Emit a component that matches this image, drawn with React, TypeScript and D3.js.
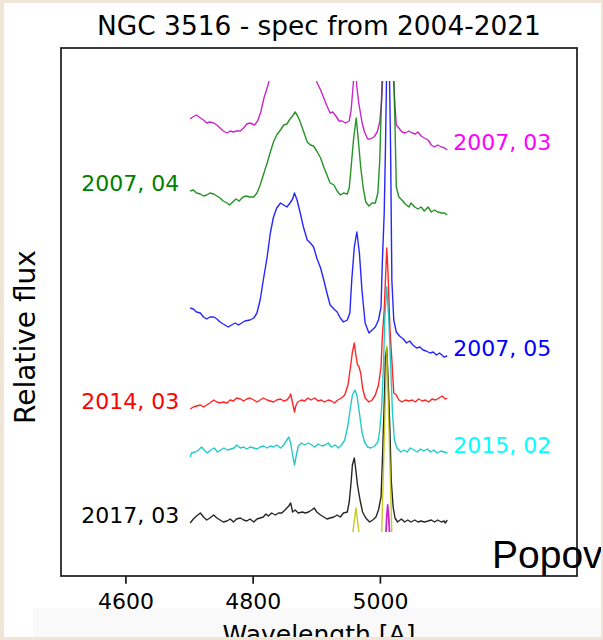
import React from "react";
import * as d3 from "d3";

// Optical spectra of NGC 3516 around H-beta and [O III], offset vertically per epoch.
type Pt = [number, number]; // [wavelength (A), relative flux + offset]

const W = 603;
const H = 640;

const xTicks = [4600, 4800, 5000];
const titleText = "NGC 3516 - spec from 2004-2021";
const xLabelText = "Wavelength [A]";
const yLabelText = "Relative flux";
const footText = "Popov";

const spec2007_03: Pt[] = [
  [4701, 4.57], [4705, 4.59], [4711, 4.61], [4717, 4.58], [4722, 4.56], [4727, 4.53], [4732, 4.54],
  [4738, 4.53], [4743, 4.51], [4748, 4.48], [4753, 4.45], [4759, 4.43], [4764, 4.45], [4769, 4.44],
  [4774, 4.45], [4780, 4.45], [4785, 4.48], [4790, 4.52], [4795, 4.53], [4802, 4.51], [4807, 4.55],
  [4812, 4.64], [4817, 4.78], [4823, 4.9], [4828, 5.03], [4843, 5.36], [4864, 5.49], [4890, 5.23],
  [4900, 4.94], [4906, 4.86], [4911, 4.78], [4916, 4.7], [4921, 4.63], [4925, 4.64], [4930, 4.6],
  [4935, 4.55], [4940, 4.55], [4945, 4.53], [4951, 4.55], [4954, 4.66], [4957, 4.89], [4960, 5.16],
  [4963, 4.89], [4966, 4.73], [4971, 4.54], [4975, 4.44], [4980, 4.37], [4984, 4.37], [4990, 4.39],
  [4995, 4.44], [4999, 4.54], [5002, 4.76], [5004, 5.03], [5011, 5.83], [5020, 5.03], [5023, 4.69],
  [5025, 4.51], [5029, 4.48], [5034, 4.44], [5039, 4.43], [5045, 4.45], [5050, 4.43], [5055, 4.42],
  [5059, 4.44], [5064, 4.4], [5069, 4.38], [5075, 4.36], [5080, 4.31], [5085, 4.29], [5090, 4.31],
  [5096, 4.29], [5101, 4.28], [5105, 4.26],
];

const spec2007_04: Pt[] = [
  [4701, 3.85], [4706, 3.86], [4711, 3.83], [4717, 3.82], [4722, 3.8], [4727, 3.81], [4732, 3.83],
  [4738, 3.82], [4743, 3.8], [4748, 3.78], [4753, 3.75], [4759, 3.73], [4763, 3.71], [4768, 3.74],
  [4773, 3.77], [4778, 3.75], [4784, 3.79], [4789, 3.8], [4795, 3.79], [4801, 3.79], [4806, 3.83],
  [4811, 3.91], [4816, 4.01], [4822, 4.13], [4827, 4.24], [4832, 4.34], [4837, 4.41], [4843, 4.46],
  [4848, 4.51], [4853, 4.52], [4858, 4.57], [4862, 4.6], [4866, 4.64], [4870, 4.6], [4874, 4.54],
  [4879, 4.45], [4885, 4.34], [4890, 4.31], [4895, 4.3], [4900, 4.25], [4906, 4.18], [4911, 4.09],
  [4916, 4.01], [4921, 3.93], [4927, 3.91], [4932, 3.85], [4937, 3.81], [4942, 3.83], [4948, 3.82],
  [4951, 3.88], [4954, 4.09], [4958, 4.38], [4962, 4.58], [4965, 4.38], [4969, 4.09], [4973, 3.88],
  [4977, 3.74], [4982, 3.7], [4987, 3.73], [4992, 3.73], [4996, 3.83], [4999, 4.16], [5002, 4.83],
  [5005, 5.49], [5013, 6.16], [5020, 5.33], [5023, 4.49], [5025, 3.89], [5029, 3.79], [5034, 3.76],
  [5039, 3.72], [5045, 3.69], [5048, 3.73], [5054, 3.69], [5059, 3.67], [5064, 3.69], [5069, 3.65],
  [5075, 3.69], [5080, 3.64], [5085, 3.66], [5090, 3.64], [5096, 3.63], [5101, 3.63], [5105, 3.61],
];

const spec2007_05: Pt[] = [
  [4701, 2.68], [4706, 2.67], [4711, 2.64], [4717, 2.63], [4722, 2.59], [4727, 2.57], [4732, 2.59],
  [4738, 2.59], [4743, 2.57], [4748, 2.54], [4753, 2.52], [4761, 2.49], [4766, 2.51], [4772, 2.53],
  [4777, 2.51], [4782, 2.53], [4787, 2.55], [4795, 2.56], [4801, 2.58], [4806, 2.63], [4811, 2.76],
  [4816, 2.96], [4822, 3.19], [4827, 3.43], [4832, 3.59], [4837, 3.68], [4843, 3.73], [4848, 3.71],
  [4853, 3.69], [4858, 3.73], [4862, 3.77], [4865, 3.83], [4869, 3.76], [4874, 3.63], [4879, 3.49],
  [4885, 3.36], [4890, 3.33], [4895, 3.29], [4900, 3.18], [4906, 3.08], [4911, 2.96], [4916, 2.83],
  [4921, 2.71], [4927, 2.67], [4932, 2.64], [4937, 2.58], [4942, 2.54], [4948, 2.56], [4952, 2.63],
  [4955, 2.96], [4959, 3.29], [4963, 3.44], [4967, 3.23], [4971, 2.86], [4976, 2.53], [4982, 2.43],
  [4987, 2.46], [4992, 2.49], [4997, 2.56], [5001, 2.69], [5003, 3.13], [5006, 3.63], [5008, 4.29],
  [5012, 5.96], [5016, 4.29], [5018, 2.96], [5021, 2.56], [5025, 2.44], [5030, 2.4], [5036, 2.37],
  [5041, 2.33], [5046, 2.35], [5051, 2.31], [5057, 2.28], [5062, 2.29], [5067, 2.26], [5072, 2.25],
  [5078, 2.23], [5083, 2.24], [5088, 2.21], [5093, 2.23], [5100, 2.19], [5105, 2.2],
];

const spec2014_03: Pt[] = [
  [4701, 1.67], [4706, 1.69], [4711, 1.7], [4717, 1.71], [4722, 1.69], [4727, 1.71], [4732, 1.73],
  [4738, 1.76], [4743, 1.74], [4748, 1.73], [4753, 1.74], [4759, 1.73], [4764, 1.76], [4769, 1.75],
  [4774, 1.78], [4780, 1.77], [4785, 1.75], [4790, 1.77], [4795, 1.78], [4801, 1.76], [4806, 1.74],
  [4811, 1.76], [4816, 1.78], [4822, 1.76], [4827, 1.75], [4832, 1.74], [4837, 1.76], [4843, 1.77],
  [4848, 1.75], [4853, 1.76], [4857, 1.79], [4859, 1.82], [4861, 1.76], [4863, 1.7], [4865, 1.64],
  [4867, 1.7], [4870, 1.74], [4876, 1.76], [4881, 1.75], [4886, 1.78], [4891, 1.76], [4897, 1.78],
  [4902, 1.75], [4907, 1.76], [4912, 1.74], [4918, 1.76], [4923, 1.75], [4928, 1.73], [4933, 1.76],
  [4939, 1.78], [4944, 1.81], [4949, 1.91], [4953, 2.09], [4956, 2.24], [4959, 2.33], [4961, 2.23],
  [4964, 2.11], [4966, 2.1], [4969, 2.03], [4972, 1.88], [4976, 1.78], [4982, 1.74], [4987, 1.76],
  [4992, 1.81], [4997, 1.91], [5001, 2.09], [5003, 2.39], [5006, 2.66], [5010, 3.28], [5012, 3.03],
  [5015, 2.47], [5018, 2.16], [5021, 1.83], [5025, 1.81], [5029, 1.76], [5034, 1.74], [5039, 1.76],
  [5045, 1.75], [5050, 1.76], [5055, 1.74], [5060, 1.77], [5066, 1.75], [5071, 1.76], [5076, 1.74],
  [5081, 1.77], [5087, 1.76], [5092, 1.78], [5097, 1.8], [5102, 1.77], [5105, 1.78],
];

const spec2015_02: Pt[] = [
  [4701, 1.19], [4703, 1.23], [4709, 1.24], [4714, 1.26], [4719, 1.29], [4723, 1.26], [4728, 1.23],
  [4733, 1.26], [4739, 1.28], [4744, 1.24], [4749, 1.26], [4754, 1.28], [4760, 1.26], [4765, 1.27],
  [4770, 1.28], [4774, 1.31], [4780, 1.28], [4785, 1.29], [4790, 1.27], [4795, 1.29], [4801, 1.28],
  [4806, 1.27], [4811, 1.29], [4816, 1.3], [4822, 1.28], [4827, 1.3], [4832, 1.29], [4837, 1.31],
  [4843, 1.28], [4848, 1.31], [4852, 1.35], [4856, 1.39], [4859, 1.33], [4862, 1.21], [4865, 1.11],
  [4867, 1.18], [4871, 1.3], [4876, 1.33], [4881, 1.31], [4887, 1.33], [4892, 1.31], [4897, 1.29],
  [4902, 1.32], [4908, 1.3], [4913, 1.31], [4918, 1.33], [4923, 1.29], [4929, 1.31], [4934, 1.28],
  [4939, 1.31], [4944, 1.36], [4949, 1.51], [4953, 1.69], [4956, 1.81], [4960, 1.86], [4963, 1.81],
  [4967, 1.63], [4971, 1.44], [4975, 1.34], [4980, 1.29], [4985, 1.28], [4991, 1.3], [4996, 1.34],
  [4999, 1.46], [5002, 1.69], [5005, 2.13], [5007, 2.59], [5010, 2.89], [5013, 2.59], [5016, 2.13],
  [5019, 1.63], [5022, 1.36], [5026, 1.28], [5032, 1.24], [5037, 1.26], [5042, 1.24], [5047, 1.28],
  [5053, 1.26], [5058, 1.24], [5063, 1.27], [5068, 1.25], [5074, 1.27], [5079, 1.24], [5084, 1.26],
  [5089, 1.23], [5095, 1.25], [5100, 1.24], [5105, 1.23],
];

const spec2017_03: Pt[] = [
  [4701, 0.53], [4706, 0.57], [4711, 0.6], [4717, 0.63], [4722, 0.59], [4727, 0.56], [4732, 0.58],
  [4738, 0.61], [4743, 0.58], [4748, 0.56], [4753, 0.54], [4759, 0.55], [4764, 0.57], [4769, 0.54],
  [4774, 0.57], [4780, 0.58], [4785, 0.56], [4790, 0.55], [4795, 0.57], [4801, 0.54], [4806, 0.57],
  [4811, 0.58], [4816, 0.59], [4820, 0.62], [4824, 0.6], [4829, 0.63], [4835, 0.61], [4840, 0.63],
  [4845, 0.63], [4850, 0.66], [4856, 0.7], [4859, 0.73], [4862, 0.64], [4866, 0.66], [4871, 0.63],
  [4877, 0.64], [4882, 0.63], [4887, 0.64], [4892, 0.66], [4896, 0.68], [4900, 0.64], [4906, 0.61],
  [4911, 0.59], [4916, 0.57], [4921, 0.58], [4927, 0.59], [4932, 0.61], [4937, 0.59], [4942, 0.63],
  [4948, 0.64], [4951, 0.74], [4954, 0.94], [4956, 1.11], [4959, 1.18], [4961, 1.08], [4964, 0.91],
  [4968, 0.76], [4972, 0.64], [4977, 0.58], [4983, 0.54], [4988, 0.56], [4993, 0.59], [4997, 0.66],
  [5001, 0.79], [5003, 1.13], [5006, 1.73], [5008, 2.19], [5010, 2.28], [5012, 1.99], [5015, 1.46],
  [5017, 0.96], [5020, 0.69], [5023, 0.58], [5027, 0.54], [5033, 0.57], [5038, 0.54], [5043, 0.56],
  [5048, 0.54], [5054, 0.56], [5059, 0.54], [5064, 0.55], [5069, 0.54], [5075, 0.55], [5080, 0.56],
  [5085, 0.54], [5090, 0.56], [5096, 0.54], [5100, 0.55], [5102, 0.53], [5105, 0.56],
];

// [O III] 4959/5007 model profiles drawn under the latest epoch
const oiiiModel: Pt[] = [
  [4940, 0.05], [4954, 0.3], [4961.5, 0.68], [4969, 0.3], [4980, 0.05], [4995, 0.08], [5002, 0.42],
  [5006, 1.35], [5010, 2.3], [5014, 1.35], [5018, 0.42], [5025, 0.08],
];
const narrowModel: Pt[] = [[5006, 0.1], [5010, 0.6], [5011.5, 0.71], [5013, 0.6], [5017, 0.1]];

interface Series {
  label: string | null;
  side: "left" | "right";
  data: Pt[];
  stroke: string;
  text: string;
  width: number;
}

const series: Series[] = [
  { label: "2007, 03", side: "right", data: spec2007_03, stroke: "#bf00bf", text: "#ff00ff", width: 1.4 },
  { label: "2007, 04", side: "left", data: spec2007_04, stroke: "#008000", text: "#008000", width: 1.4 },
  { label: "2007, 05", side: "right", data: spec2007_05, stroke: "#0000ff", text: "#0000ff", width: 1.4 },
  { label: "2014, 03", side: "left", data: spec2014_03, stroke: "#ff0000", text: "#ff0000", width: 1.4 },
  { label: "2015, 02", side: "right", data: spec2015_02, stroke: "#00bfbf", text: "#00ffff", width: 1.4 },
  { label: "2017, 03", side: "left", data: spec2017_03, stroke: "#000000", text: "#000000", width: 1.4 },
  { label: null, side: "left", data: oiiiModel, stroke: "#bfbf00", text: "#bfbf00", width: 1.4 },
  { label: null, side: "left", data: narrowModel, stroke: "#bf00bf", text: "#bf00bf", width: 1.8 },
];

// plot frame
const frame = { left: 61, top: 48, right: 577, bottom: 576 };
// visible flux window of the spectra
const fluxTop = 4.95;
const fluxBottom = 0.44;

const x = d3.scaleLinear().domain([4498, 5309]).range([frame.left, frame.right]);
const y = d3.scaleLinear().domain([0, 5.28]).range([frame.bottom, frame.top]);

const line = d3
  .line<Pt>()
  .x((d) => x(d[0]))
  .y((d) => y(d[1]));

const FONT = "'DejaVu Sans', sans-serif";

export default function App() {
  const clipTop = y(fluxTop);
  const clipBottom = y(fluxBottom);
  return (
    <svg
      width={W}
      height={H}
      viewBox={`0 0 ${W} ${H}`}
      style={{ position: "fixed", left: 0, top: 0, display: "block" }}
    >
      <defs>
        <clipPath id="panel">
          <rect x={4} y={3} width={597} height={634} />
        </clipPath>
        <clipPath id="specwin">
          <rect x={frame.left} y={clipTop} width={frame.right - frame.left} height={clipBottom - clipTop} />
        </clipPath>
      </defs>
      <rect x={0} y={0} width={W} height={H} fill="#efe6d7" />
      <g clipPath="url(#panel)">
        <rect x={4} y={3} width={597} height={634} fill="#ffffff" />
        <rect x={33} y={608} width={568} height={29} fill="#f9f9f9" />

        <text x={(frame.left + frame.right) / 2} y={35} textAnchor="middle" fontFamily={FONT} fontSize={26.4} fill="#000">
          {titleText}
        </text>

        <g clipPath="url(#specwin)">
          {series.map((s, i) => (
            <path key={i} d={line(s.data) ?? ""} fill="none" stroke={s.stroke} strokeWidth={s.width} strokeLinejoin="round" opacity={0.85} />
          ))}
        </g>

        {series
          .filter((s) => s.label)
          .map((s, i) => {
            const p = s.side === "left" ? s.data[0] : s.data[s.data.length - 1];
            const tx = s.side === "left" ? x(p[0]) - 11 : x(p[0]) + 6;
            return (
              <text
                key={i}
                x={tx}
                y={y(p[1])}
                textAnchor={s.side === "left" ? "end" : "start"}
                fontFamily={FONT}
                fontSize={22}
                fill={s.text}
              >
                {s.label}
              </text>
            );
          })}

        <rect
          x={frame.left}
          y={frame.top}
          width={frame.right - frame.left}
          height={frame.bottom - frame.top}
          fill="none"
          stroke="#1a1a1a"
          strokeWidth={1.7}
        />

        {xTicks.map((t) => (
          <g key={t} transform={`translate(${x(t)},${frame.bottom})`}>
            <line y1={0} y2={7.7} stroke="#1a1a1a" strokeWidth={1.7} />
            <text y={33} textAnchor="middle" fontFamily={FONT} fontSize={22} fill="#000">
              {t}
            </text>
          </g>
        ))}

        <text x={(frame.left + frame.right) / 2} y={643} textAnchor="middle" fontFamily={FONT} fontSize={25} fill="#000">
          {xLabelText}
        </text>

        <text
          transform={`translate(35,337) rotate(-90)`}
          textAnchor="middle"
          fontFamily={FONT}
          fontSize={28}
          fill="#000"
        >
          {yLabelText}
        </text>

        <text x={492} y={568} fontFamily="'Liberation Sans', Arial, sans-serif" fontSize={39} fill="#000">
          {footText}
        </text>
      </g>
    </svg>
  );
}
